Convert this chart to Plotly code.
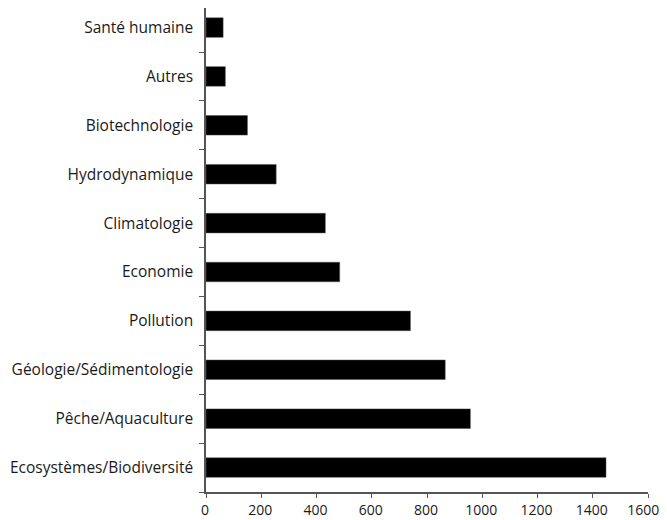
import plotly.graph_objects as go

categories = [
    "Ecosystèmes/Biodiversité",
    "Pêche/Aquaculture",
    "Géologie/Sédimentologie",
    "Pollution",
    "Economie",
    "Climatologie",
    "Hydrodynamique",
    "Biotechnologie",
    "Autres",
    "Santé humaine",
]
values = [1448, 957, 866, 740, 484, 432, 254, 150, 70, 62]
x_ticks = [0, 200, 400, 600, 800, 1000, 1200, 1400, 1600]
x_tick_labels = ["0", "200", "400", "600", "800", "1000", "1200", "1400", "1600\u00a0\u00a0"]

fig = go.Figure(
    go.Bar(
        x=values,
        y=categories,
        orientation="h",
        marker=dict(color="black", line=dict(color="#555555", width=0.5)),
        width=0.4,
    )
)

fig.update_layout(
    width=659,
    height=512,
    margin=dict(l=198, r=19, t=0, b=28),
    plot_bgcolor="white",
    paper_bgcolor="white",
    font=dict(family="Open Sans, sans-serif", size=15.5, color="#1a1a1a"),
    showlegend=False,
)

fig.update_xaxes(
    range=[0, 1600],
    tickvals=x_ticks,
    ticktext=x_tick_labels,
    showgrid=False,
    zeroline=False,
    showline=True,
    linecolor="#555555",
    linewidth=1.5,
    ticks="outside",
    ticklen=4,
    tickcolor="#555555",
    ticklabelstandoff=0,
    ticklabelshift=-1,
    tickfont=dict(size=14),
    automargin=False,
)

fig.update_yaxes(
    type="category",
    categoryorder="array",
    categoryarray=categories,
    range=[-0.5, 9.4],
    showgrid=False,
    zeroline=False,
    showline=True,
    linecolor="#555555",
    linewidth=1.5,
    ticks="outside",
    tickson="boundaries",
    ticklen=5,
    tickcolor="#555555",
    ticklabelstandoff=8,
    tickfont=dict(size=15.5),
    automargin=False,
)

fig.write_html("out.html")
